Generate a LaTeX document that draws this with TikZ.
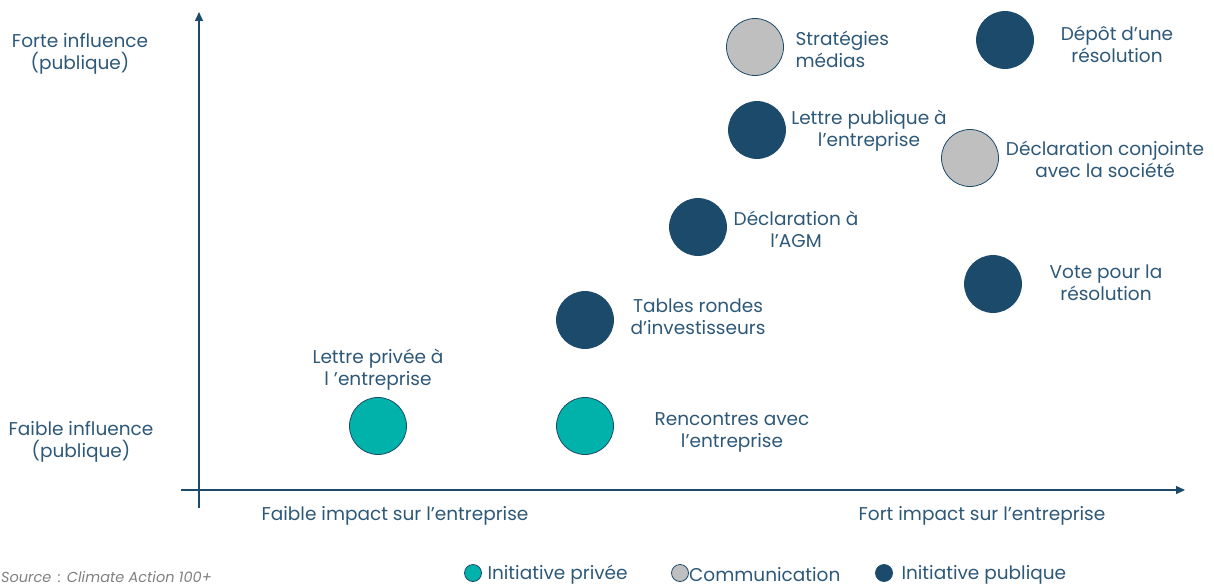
\documentclass[tikz,border=0pt]{standalone}
\usepackage{fontspec}
\setmainfont{Poppins}
\usetikzlibrary{arrows.meta}
\definecolor{navy}{HTML}{1B4A6B}
\definecolor{ink}{HTML}{2D5878}
\definecolor{teal}{HTML}{00B2AA}
\definecolor{greyfill}{HTML}{BFBFBF}
\begin{document}
\begin{tikzpicture}[x=1pt,y=-1pt,
  every node/.style={font=\fontsize{18.5}{22}\selectfont, text=ink},
  lbl/.style={align=center},
  lbll/.style={align=left},
  dot/.style={circle, minimum size=57pt, inner sep=0pt, draw=navy, line width=0.8pt},
  pub/.style={dot, fill=navy},
  priv/.style={dot, fill=teal},
  comm/.style={dot, fill=greyfill},
  legdot/.style={circle, minimum size=17pt, inner sep=0pt, draw=navy, line width=0.8pt},
  axis/.style={draw=navy, line width=1.4pt, -{Triangle[length=9pt,width=8pt]}}]
\useasboundingbox (0,0) rectangle (1214,586);

% axes
\coordinate (yb) at (199,508);
\coordinate (yt) at (199,12);
\coordinate (xl) at (181,490);
\coordinate (xr) at (1185,490);
\draw[axis] (yb) -- (yt);
\draw[axis] (xl) -- (xr);

% axis labels
\node[lbl] (forte) at (80,54) {Forte influence\\(publique)};
\node[lbl] (faible) at (81,442) {Faible influence\\(publique)};
\node (fimp) at (395,516) {Faible impact sur l’entreprise};
\node (fortimp) at (982,516) {Fort impact sur l’entreprise};

% actions
\node[comm] (strat) at (755,47) {};
\node[lbll, anchor=west] (stratl) at (792,49) {Stratégies\\médias};
\node[pub] (depot) at (1005,40) {};
\node[lbl] (depotl) at (1117,44) {Dépôt d’une\\résolution};
\node[pub] (lpub) at (757,130) {};
\node[lbl] (lpubl) at (869,131) {Lettre publique à\\l’entreprise};
\node[comm] (conj) at (970,158) {};
\node[lbl] (conjl) at (1105,159) {Déclaration conjointe\\avec la société};
\node[pub] (agm) at (698,227) {};
\node[lbl] (agml) at (796,229) {Déclaration à\\l’AGM};
\node[pub] (vote) at (993,284) {};
\node[lbl] (votel) at (1106,283) {Vote pour la\\résolution};
\node[pub] (tables) at (585,320) {};
\node[lbl] (tablesl) at (698,317) {Tables rondes\\d’investisseurs};
\node[lbl] (lprivl) at (378,370) {Lettre privée à\\l ’entreprise};
\node[priv] (lpriv) at (378,426) {};
\node[priv] (renc) at (585,426) {};
\node[lbl] (rencl) at (732,432) {Rencontres avec\\l’entreprise};

% legend
\node[legdot, fill=teal] (lg1) at (473,573) {};
\node[anchor=west] (lg1t) at (484,575) {Initiative privée};
\node[legdot, fill=greyfill] (lg2) at (680,573) {};
\node[anchor=west, inner xsep=1pt] (lg2t) at (688,575) {Communication};
\node[legdot, fill=navy] (lg3) at (884,573) {};
\node[anchor=west] (lg3t) at (898,575) {Initiative publique};

% source
\node[anchor=west, inner xsep=0pt, font=\fontsize{14.5}{16}\selectfont\itshape, text=gray] (src) at (1,577) {Source\, : Climate Action 100+};
\end{tikzpicture}
\end{document}
